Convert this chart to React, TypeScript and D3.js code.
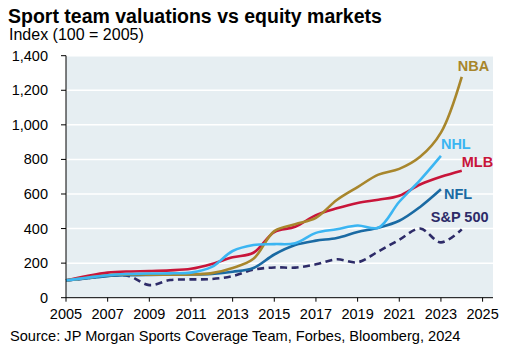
import React from "react";
import * as d3 from "d3";

const years = [2005, 2006, 2007, 2008, 2009, 2010, 2011, 2012, 2013, 2014, 2015, 2016, 2017, 2018, 2019, 2020, 2021, 2022, 2023, 2024];
const nba = [100, 115, 130, 135, 133, 133, 134, 142, 172, 225, 385, 425, 462, 565, 640, 712, 745, 815, 955, 1278];
const mlb = [100, 125, 145, 152, 154, 158, 167, 195, 234, 260, 380, 410, 478, 517, 548, 567, 590, 655, 700, 735];
const nhl = [100, 115, 130, 137, 140, 141, 145, 178, 270, 305, 310, 315, 375, 396, 418, 405, 555, 680, 820];
const nfl = [100, 112, 125, 130, 132, 133, 134, 138, 150, 172, 250, 305, 330, 345, 380, 405, 445, 525, 627];
const sp500 = [100, 113, 128, 126, 73, 102, 106, 108, 125, 162, 175, 174, 193, 222, 205, 268, 335, 400, 320, 395];

const yTicks = [0, 200, 400, 600, 800, 1000, 1200, 1400];
const xTicks = [2005, 2007, 2009, 2011, 2013, 2015, 2017, 2019, 2021, 2023, 2025];

const seriesNames = ["NBA", "NHL", "MLB", "NFL", "S&P 500"];

const W = 508, H = 354;
const M = { left: 66, right: 15, top: 55.7, bottom: 56.3 };
const FONT = "Liberation Sans, Arial, sans-serif";

export default function App() {
  const x = d3.scaleLinear().domain([2005, 2025.5]).range([M.left, W - M.right]);
  const y = d3.scaleLinear().domain([0, 1400]).range([H - M.bottom, M.top]);

  const line = d3
    .line<number>()
    .x((_, i) => x(years[i]))
    .y((d) => y(d))
    .curve(d3.curveCatmullRom.alpha(0.5));

  const series = [
    { name: seriesNames[0], data: nba, color: "#A8862C", dash: undefined, dx: -4, dy: -6 },
    { name: seriesNames[1], data: nhl, color: "#3BB5F2", dash: undefined, dx: 0, dy: -7 },
    { name: seriesNames[2], data: mlb, color: "#C8153A", dash: undefined, dx: 0, dy: -3.5 },
    { name: seriesNames[3], data: nfl, color: "#1A6AA3", dash: undefined, dx: 3, dy: 10 },
    { name: seriesNames[4], data: sp500, color: "#2D2B68", dash: "7,4.5", dx: -31, dy: -7 },
  ];

  const drawOrder = [4, 3, 2, 0, 1];

  const [x0, x1] = x.range();
  const [y0, y1] = y.range();

  return (
    <svg
      width={W}
      height={H}
      style={{ position: "absolute", left: 0, top: 0, background: "#fff" }}
      fontFamily={FONT}
    >
      <text x={8} y={22.5} fontSize={19.5} fontWeight="bold" fill="#000">
        Sport team valuations vs equity markets
      </text>
      <text x={9} y={39.5} fontSize={16} fill="#000">
        Index (100 = 2005)
      </text>

      <rect x={x0} y={y1} width={x1 - x0} height={y0 - y1} fill="#E6EEF2" />
      {yTicks.slice(1).map((t) => (
        <line key={"g" + t} x1={x0} x2={x1} y1={y(t)} y2={y(t)} stroke="#fff" strokeWidth={1.5} />
      ))}

      {drawOrder.map((i) => {
        const s = series[i];
        return (
          <path
            key={s.name}
            d={line(s.data) || ""}
            fill="none"
            stroke={s.color}
            strokeWidth={2.6}
            strokeDasharray={s.dash}
            strokeLinejoin="round"
          />
        );
      })}

      {series.map((s) => {
        const n = s.data.length - 1;
        return (
          <text
            key={"l" + s.name}
            x={x(years[n]) + s.dx}
            y={y(s.data[n]) + s.dy}
            fontSize={14.5}
            fontWeight="bold"
            fill={s.color}
          >
            {s.name}
          </text>
        );
      })}

      <line x1={x0} x2={x0} y1={y1} y2={y0} stroke="#000" strokeWidth={1} />
      <line x1={x0} x2={x1} y1={y0} y2={y0} stroke="#000" strokeWidth={1} />
      {yTicks.map((t) => (
        <g key={"y" + t}>
          <line x1={x0 - 5} x2={x0} y1={y(t)} y2={y(t)} stroke="#000" strokeWidth={1} />
          <text x={x0 - 18} y={y(t) + 5} fontSize={14.5} textAnchor="end" fill="#000">
            {d3.format(",")(t)}
          </text>
        </g>
      ))}
      {xTicks.map((t) => (
        <g key={"x" + t}>
          <line x1={x(t)} x2={x(t)} y1={y0} y2={y0 + 4} stroke="#000" strokeWidth={1} />
          <text x={x(t)} y={y0 + 21.5} fontSize={14.5} textAnchor="middle" fill="#000">
            {t}
          </text>
        </g>
      ))}

      <text x={10} y={341} fontSize={14.6} fill="#000">
        Source: JP Morgan Sports Coverage Team, Forbes, Bloomberg, 2024
      </text>
    </svg>
  );
}
